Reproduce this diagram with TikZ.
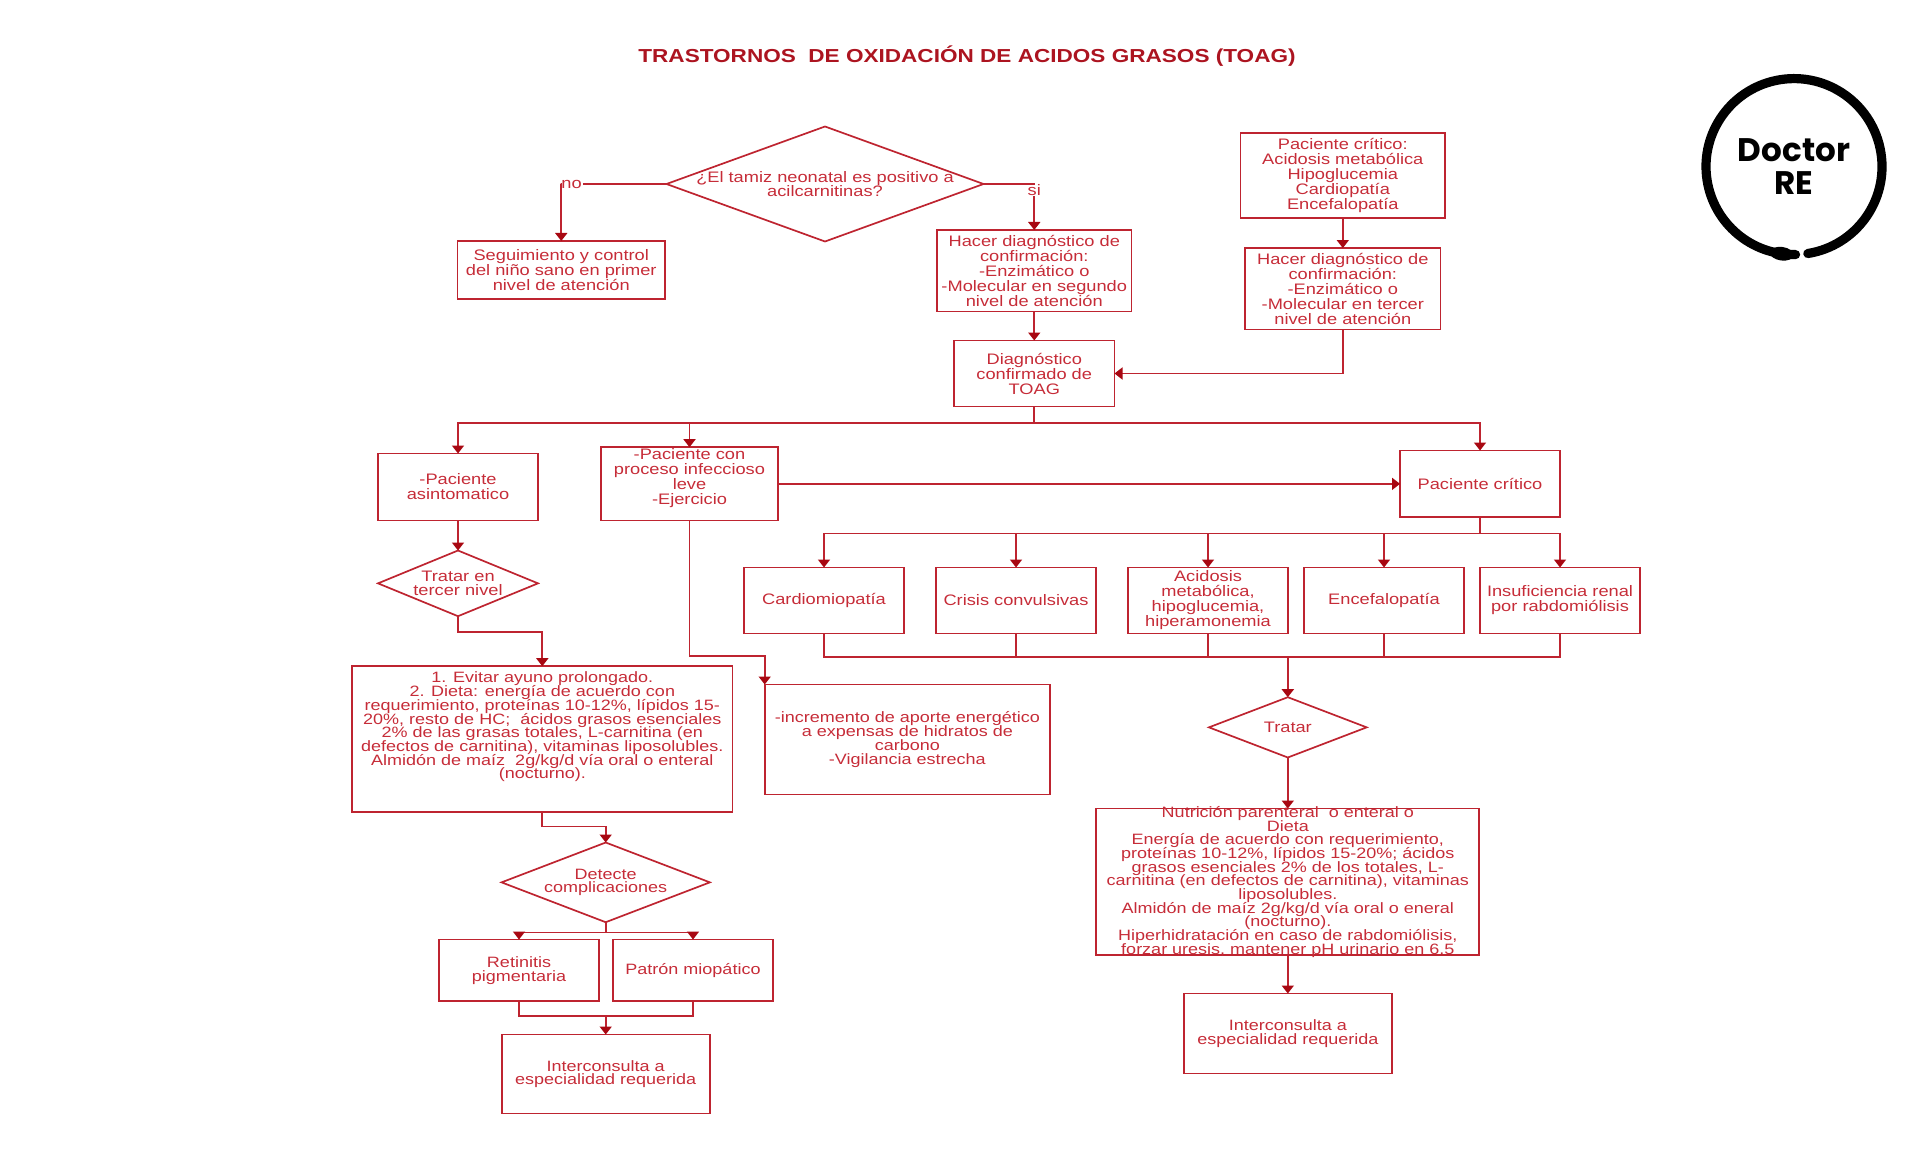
\documentclass[tikz,border=0pt]{standalone}
\usepackage{fontspec}
\usepackage{xcolor}
\usepackage{tikz}
\usetikzlibrary{arrows.meta, positioning, shapes.geometric}
\setmainfont[FakeStretch=1.2]{Liberation Sans}
\newfontfamily\logofont{Poppins}
\definecolor{toagline}{RGB}{190,36,48}
\definecolor{toagtip}{RGB}{168,8,18}
\definecolor{toagtext}{RGB}{198,44,56}
\definecolor{toagtitle}{RGB}{172,20,32}
\newcommand{\toagfont}[2]{\fontsize{#1}{#2}\selectfont\lineskiplimit=-5pt\relax}

\begin{document}
\begin{tikzpicture}[
    line width=0.85pt,
    box/.style={rectangle, draw=toagline, text=toagtext, align=center, inner sep=0pt, outer sep=0pt, minimum width=80pt, minimum height=33pt, font=\toagfont{7.6}{7.5}},
    dec/.style={diamond, draw=toagline, text=toagtext, align=center, inner sep=0pt, outer sep=0pt, font=\toagfont{7.6}{7.3}},
    tight/.style={inner ysep=-2pt, font=\toagfont{7.5}{6.85}},
    lab/.style={text=toagtext, inner sep=0pt, font=\toagfont{7.6}{7.5}},
    line/.style={draw=toagline},
    arrow/.style={draw=toagline, -{Triangle[length=4pt, width=6pt, color=toagtip]}}
]
\useasboundingbox (0,0) rectangle (960pt,-583pt);
\node[text=toagtitle, inner sep=0pt, font=\fontsize{9.4}{11}\selectfont\bfseries] (title) at (483.5pt,-28pt) {TRASTORNOS\ \ DE OXIDACIÓN DE ACIDOS GRASOS (TOAG)};

% top of the chart
\node[dec, inner sep=-3pt, aspect=2.76, minimum width=158.5pt, minimum height=57.5pt] (tamiz) at (412.5pt,-92pt) {¿El tamiz neonatal es positivo a\\acilcarnitinas?};
\node[box, minimum width=103.75pt, minimum height=29pt, below left=28.5pt and 0.75pt of tamiz.west] (seguimiento) {Seguimiento y control\\del niño sano en primer\\nivel de atención};
\node[box, minimum width=97.25pt, minimum height=40.75pt, below right=23pt and -23.25pt of tamiz.east] (hacer2) {Hacer diagnóstico de\\confirmación:\\-Enzimático o\\-Molecular en segundo\\nivel de atención};
\node[box, minimum height=33pt, minimum width=80.25pt, below=14.5pt of hacer2] (diag) {Diagnóstico\\confirmado de\\TOAG};
\node[box, minimum width=102.25pt, minimum height=42.65pt] (critico) at (671.4pt,-87.7pt) {Paciente crítico:\\Acidosis metabólica\\Hipoglucemia\\Cardiopatía\\Encefalopatía};
\node[box, minimum width=97.75pt, minimum height=40.65pt, below=15pt of critico] (hacer3) {Hacer diagnóstico de\\confirmación:\\-Enzimático o\\-Molecular en tercer\\nivel de atención};
\node[lab, left=42pt of tamiz.west] (no) {no};
\node[lab, above=17pt of hacer2] (si) {si};

% three branches
\node[box, minimum height=33.5pt, below left=23.5pt and 208pt of diag] (asint) {-Paciente\\asintomatico};
\node[box, minimum width=88.5pt, minimum height=36.65pt, below left=20.35pt and 88pt of diag] (leve) {-Paciente con\\proceso infeccioso\\leve\\-Ejercicio\\~};
\node[box, minimum height=33.35pt, below right=22pt and 142.75pt of diag] (grave) {Paciente crítico};

% left branch
\node[dec, aspect=2.44, minimum width=80pt, minimum height=32.85pt, below=15pt of asint] (tercer) {Tratar en\\tercer nivel};
\node[box, tight, minimum width=190.3pt, minimum height=73pt, below=25pt of tercer.south, xshift=42.15pt] (dieta) {1. Evitar ayuno prolongado.\\2. Dieta: energía de acuerdo con\\requerimiento, proteínas 10-12\%, lípidos 15-\\20\%, resto de HC;\ \ ácidos grasos esenciales\\2\% de las grasas totales, L-carnitina (en\\defectos de carnitina), vitaminas liposolubles.\\Almidón de maíz\ \ 2g/kg/d vía oral o enteral\\(nocturno).\\~\\~};
\node[dec, tight, aspect=2.61, minimum width=104.15pt, minimum height=39.85pt, below=15.15pt of dieta.south, xshift=31.7pt] (detecte) {Detecte\\complicaciones};
\node[box, tight, minimum height=30.85pt, below left=8.65pt and 3.35pt of detecte.south] (retinitis) {Retinitis\\pigmentaria};
\node[box, tight, minimum height=30.85pt, right=7pt of retinitis] (patron) {Patrón miopático};
\node[box, tight, minimum width=104pt, minimum height=39.5pt, below=56.15pt of detecte.south] (inter) {Interconsulta a\\especialidad requerida};

% middle branch
\node[box, tight, minimum width=142.65pt, minimum height=55pt, below right=82pt and -6.65pt of leve] (aporte) {-incremento de aporte energético\\a expensas de hidratos de\\carbono\\-Vigilancia estrecha};

% right branch
\node[box, below right=25.15pt and 0pt of grave.south] (renal) {Insuficiencia renal\\por rabdomiólisis};
\node[box, left=8pt of renal] (encef) {Encefalopatía};
\node[box, left=8pt of encef] (acidosis) {Acidosis\\metabólica,\\hipoglucemia,\\hiperamonemia};
\node[box, left=16pt of acidosis] (crisis) {Crisis convulsivas};
\node[box, left=16pt of crisis] (cardio) {Cardiomiopatía};
\node[dec, aspect=2.61, minimum width=78.85pt, minimum height=30.15pt, below=31.85pt of acidosis.south, xshift=39.9pt] (tratar) {Tratar};
\node[box, tight, minimum width=191.5pt, minimum height=73.35pt, below=25.5pt of tratar] (nutri) {Nutrición parenteral\ \ o enteral o\\Dieta\\Energía de acuerdo con requerimiento,\\proteínas 10-12\%, lípidos 15-20\%; ácidos\\grasos esenciales 2\% de los totales, L-\\carnitina (en defectos de carnitina), vitaminas\\liposolubles.\\Almidón de maíz 2g/kg/d vía oral o eneral\\(nocturno).\\Hiperhidratación en caso de rabdomiólisis,\\forzar uresis, mantener pH urinario en 6.5};
\node[box, tight, minimum width=103.85pt, minimum height=40pt, below=19.15pt of nutri] (inter2) {Interconsulta a\\especialidad requerida};

\coordinate[below=8.35pt of diag.south] (busa);
\coordinate[below=8.15pt of grave.south] (busb);
\coordinate[above=20pt of tratar.north] (busc);
\coordinate[below=5.15pt of detecte.south] (busd);
\coordinate[above=9.15pt of inter.north] (buse);

\draw[line] (tamiz.west) -- (no);
\draw[arrow] (no.west) -| (seguimiento.north);
\draw[line] (tamiz.east) -| (si.north);
\draw[arrow] (si) -- (hacer2);
\draw[arrow] (hacer2) -- (diag);
\draw[arrow] (critico) -- (hacer3);
\draw[arrow] (hacer3.south) |- (diag.east);
\draw[line] (diag.south) -- (busa);
\draw[arrow] (busa) -| (asint);
\draw[arrow] (busa) -| (leve);
\draw[arrow] (busa) -| (grave);
\draw[arrow] (leve) -- (grave.west |- leve);
\draw[arrow] (asint) -- (tercer);
\draw[arrow] (tercer.south) -- ++(0,-8pt) -| (dieta.north);
\draw[arrow] (dieta.south) -- ++(0,-7.2pt) -| (detecte.north);
\draw[line] (detecte.south) -- (busd);
\draw[arrow] (busd) -| (retinitis);
\draw[arrow] (busd) -| (patron);
\draw[line] (retinitis.south) |- (buse);
\draw[line] (patron.south) |- (buse);
\draw[arrow] (buse) -- (inter);
\draw[arrow] (leve.south) -- ++(0,-67.85pt) -| (aporte.north west);
\draw[line] (grave.south) -- (busb);
\draw[arrow] (busb) -| (cardio);
\draw[arrow] (busb) -| (crisis);
\draw[arrow] (busb) -| (acidosis);
\draw[arrow] (busb) -| (encef);
\draw[arrow] (busb) -| (renal);
\draw[line] (cardio.south) |- (busc);
\draw[line] (crisis.south) |- (busc);
\draw[line] (acidosis.south) |- (busc);
\draw[line] (encef.south) |- (busc);
\draw[line] (renal.south) |- (busc);
\draw[arrow, line width=1.2pt] (busc) -- (tratar);
\draw[arrow] (tratar) -- (nutri);
\draw[arrow] (nutri) -- (inter2);

% logo
\node[inner sep=0pt, align=center, font=\logofont\fontsize{16.3}{16.5}\selectfont\bfseries] (marca) at (897pt,-83.3pt) {Doctor\\RE};
\draw[line width=4.6pt, line cap=round] ([shift={(-81:44pt)}]marca.center) arc[start angle=-81, end angle=271, radius=44pt];
\fill[rotate around={-8:(marca.center)}] ([shift={(-90:44pt)}]marca.center) ellipse (6pt and 3.4pt);
\end{tikzpicture}
\end{document}
